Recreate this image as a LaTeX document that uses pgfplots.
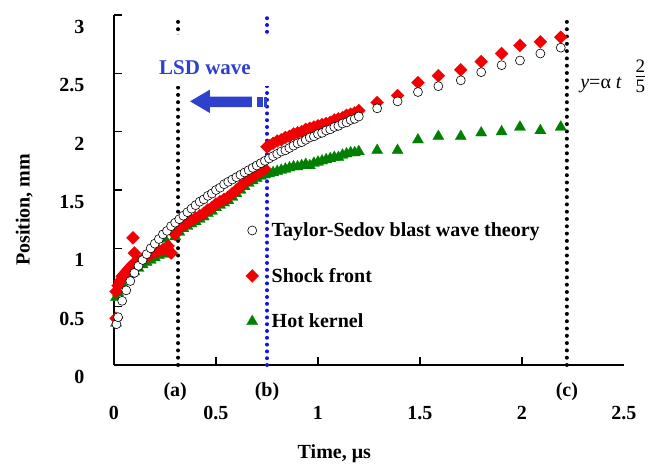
\documentclass[border=0pt]{standalone}
\usepackage{fontspec}
\setmainfont{Liberation Serif}
\usepackage{pgfplots}
\pgfplotsset{compat=1.18}
\definecolor{myred}{RGB}{240,0,0}
\definecolor{mygreen}{RGB}{0,128,0}
\definecolor{arrowblue}{RGB}{45,65,205}
\definecolor{dotblue}{RGB}{20,20,230}
\begin{document}
\begin{tikzpicture}
\useasboundingbox (-114pt,-102pt) rectangle (535pt,365pt);
\begin{axis}[
  at={(0pt,0pt)}, anchor=south west,
  scale only axis, width=510pt, height=350pt,
  xmin=0, xmax=2.5, ymin=0, ymax=3,
  axis x line*=bottom, axis y line*=left,
  axis line style={line width=1.5pt},
  xtick={0,0.5,1,1.5,2}, ytick={0,0.5,1,1.5,2,2.5,3},
  extra x ticks={2.5}, extra x tick style={major tick length=0pt},
  tick align=inside, major tick length=8pt,
  tick style={line width=1.5pt, black},
  ticklabel style={font=\fontsize{20}{22}\selectfont\bfseries},
  /pgf/number format/assume math mode=true,
  xticklabel style={yshift=-38pt},
  yticklabel style={xshift=-26pt, yshift=-12pt},
  clip=false,
  reverse legend,
  legend style={at={(axis cs:0.63,1.255)}, anchor=north west, draw=none, fill=none,
    row sep=26pt, font=\fontsize{20}{22}\selectfont\bfseries, cells={anchor=west}},
]
% dotted vertical lines
\draw[black, line width=4pt, line cap=round, dash pattern=on 0pt off 7.3pt] (axis cs:0.314,0) -- (axis cs:0.314,3);
\draw[black, line width=4pt, line cap=round, dash pattern=on 0pt off 7.3pt] (axis cs:2.22,0) -- (axis cs:2.22,3);
\draw[dotblue, line width=4pt, line cap=round, dash pattern=on 0pt off 6.8pt] (axis cs:0.75,0) -- (axis cs:0.75,3);
\fill[white] (axis cs:0.2,2.39) rectangle (axis cs:0.8,2.83);
% arrow
\fill[arrowblue] (axis cs:0.373,2.26) -- (axis cs:0.47,2.36) -- (axis cs:0.47,2.30) -- (axis cs:0.676,2.30) -- (axis cs:0.676,2.21) -- (axis cs:0.47,2.21) -- (axis cs:0.47,2.16) -- cycle;
\fill[arrowblue] (axis cs:0.70,2.21) rectangle (axis cs:0.728,2.30);
\fill[arrowblue] (axis cs:0.736,2.21) rectangle (axis cs:0.75,2.30);
\node[text=arrowblue, font=\fontsize{21}{23}\selectfont\bfseries] at (axis cs:0.446,2.55) {LSD wave};

\addplot[only marks, mark=triangle*, mark size=6.5pt, color=mygreen, mark options={draw=mygreen, fill=mygreen, line width=0.2pt}] coordinates {
(0.01,0.36)(0.01,0.58)(0.02,0.62)(0.04,0.70)(0.06,0.75)(0.08,0.78)(0.10,0.80)(0.12,0.83)(0.14,0.86)(0.16,0.88)(0.18,0.90)(0.20,0.92)(0.22,0.94)(0.25,1.08)(0.26,0.95)(0.28,0.97)(0.30,1.10)(0.32,1.14)(0.34,1.17)(0.36,1.19)(0.38,1.21)(0.40,1.23)(0.42,1.25)(0.44,1.27)(0.46,1.30)(0.48,1.32)(0.50,1.35)(0.52,1.37)(0.54,1.39)(0.56,1.41)(0.58,1.44)(0.60,1.47)(0.62,1.50)(0.64,1.53)(0.66,1.56)(0.68,1.58)(0.70,1.60)(0.72,1.62)(0.74,1.63)(0.76,1.64)(0.78,1.65)(0.80,1.66)(0.82,1.67)(0.84,1.68)(0.86,1.69)(0.88,1.70)(0.90,1.70)(0.92,1.71)(0.94,1.72)(0.96,1.71)(0.98,1.73)(1.00,1.74)(1.02,1.75)(1.04,1.76)(1.06,1.77)(1.08,1.78)(1.10,1.78)(1.12,1.80)(1.14,1.81)(1.16,1.82)(1.18,1.82)(1.20,1.83)(1.29,1.84)(1.39,1.84)(1.49,1.93)(1.59,1.96)(1.70,1.96)(1.80,1.99)(1.90,2.00)(1.99,2.04)(2.09,2.01)(2.19,2.04)};
\addlegendentry{\hspace*{11pt}Hot kernel}

\addplot[only marks, mark=square*, mark size=4.6pt, color=myred, mark options={rotate=45, draw=myred, fill=myred, line width=0.2pt}] coordinates {
(0.01,0.40)(0.01,0.63)(0.02,0.68)(0.03,0.72)(0.04,0.76)(0.05,0.78)(0.06,0.80)(0.07,0.82)(0.08,0.84)(0.09,0.86)(0.093,1.09)(0.10,0.96)(0.10,0.87)(0.12,0.89)(0.14,0.91)(0.16,0.93)(0.18,0.95)(0.20,0.97)(0.22,0.98)(0.24,0.99)(0.26,1.00)(0.265,1.02)(0.28,0.96)(0.30,1.12)(0.32,1.17)(0.34,1.20)(0.36,1.22)(0.38,1.24)(0.40,1.26)(0.42,1.28)(0.44,1.30)(0.46,1.33)(0.48,1.35)(0.50,1.38)(0.52,1.40)(0.54,1.42)(0.56,1.44)(0.58,1.47)(0.60,1.50)(0.62,1.53)(0.64,1.56)(0.66,1.59)(0.68,1.62)(0.70,1.64)(0.72,1.66)(0.74,1.68)(0.75,1.87)(0.76,1.88)(0.78,1.90)(0.80,1.92)(0.82,1.93)(0.84,1.95)(0.86,1.96)(0.88,1.98)(0.90,1.99)(0.92,2.00)(0.94,2.02)(0.96,2.03)(0.98,2.04)(1.00,2.05)(1.02,2.06)(1.04,2.07)(1.06,2.08)(1.08,2.10)(1.10,2.11)(1.12,2.12)(1.14,2.14)(1.16,2.15)(1.18,2.16)(1.20,2.18)(1.29,2.25)(1.39,2.31)(1.49,2.42)(1.59,2.48)(1.70,2.53)(1.80,2.60)(1.90,2.67)(1.99,2.74)(2.09,2.77)(2.19,2.81)};
\addlegendentry{\hspace*{11pt}Shock front}

\addplot[only marks, mark=*, mark size=4.5pt, color=black, mark options={draw=black, fill=white, line width=0.6pt}] coordinates {
(0.012,0.35)(0.02,0.41)(0.04,0.55)(0.06,0.64)(0.08,0.72)(0.10,0.79)(0.12,0.85)(0.14,0.90)(0.16,0.95)(0.18,1.00)(0.20,1.04)(0.22,1.08)(0.24,1.12)(0.26,1.15)(0.28,1.19)(0.30,1.22)(0.32,1.25)(0.34,1.28)(0.36,1.31)(0.38,1.34)(0.40,1.37)(0.42,1.40)(0.44,1.42)(0.46,1.45)(0.48,1.47)(0.50,1.50)(0.52,1.52)(0.54,1.55)(0.56,1.57)(0.58,1.59)(0.60,1.61)(0.62,1.63)(0.64,1.65)(0.66,1.67)(0.68,1.69)(0.70,1.71)(0.72,1.73)(0.74,1.75)(0.76,1.77)(0.78,1.79)(0.80,1.81)(0.82,1.83)(0.84,1.84)(0.86,1.86)(0.88,1.88)(0.90,1.90)(0.92,1.91)(0.94,1.93)(0.96,1.95)(0.98,1.96)(1.00,1.98)(1.02,1.99)(1.04,2.01)(1.06,2.02)(1.08,2.04)(1.10,2.05)(1.12,2.07)(1.14,2.08)(1.16,2.10)(1.18,2.11)(1.20,2.13)(1.29,2.20)(1.39,2.26)(1.49,2.34)(1.59,2.39)(1.70,2.44)(1.80,2.51)(1.90,2.57)(1.99,2.61)(2.09,2.67)(2.19,2.72)};
\addlegendentry{\hspace*{11pt}Taylor-Sedov blast wave theory}

% labels
\node[font=\fontsize{20}{22}\selectfont\bfseries] at (axis cs:0.30,-0.23) {(a)};
\node[font=\fontsize{20}{22}\selectfont\bfseries] at (axis cs:0.75,-0.23) {(b)};
\node[font=\fontsize{20}{22}\selectfont\bfseries] at (axis cs:2.22,-0.23) {(c)};
\node[font=\fontsize{20}{22}\selectfont\bfseries] at (axis cs:1.08,-0.76) {Time, μs};
\node[font=\fontsize{20}{22}\selectfont\bfseries, rotate=90] at (axis cs:-0.44,1.33) {Position, mm};
% formula
\node[anchor=west, font=\fontsize{20}{22}\selectfont, inner sep=0pt] at (axis cs:2.285,2.40) {\textit{y}=α \textit{t}};
\node[font=\fontsize{19}{21}\selectfont, inner sep=0pt] at (axis cs:2.58,2.56) {2};
\draw[line width=0.9pt] (axis cs:2.557,2.475) -- (axis cs:2.603,2.475);
\node[font=\fontsize{19}{21}\selectfont, inner sep=0pt] at (axis cs:2.58,2.39) {5};
\end{axis}
\end{tikzpicture}
\end{document}
